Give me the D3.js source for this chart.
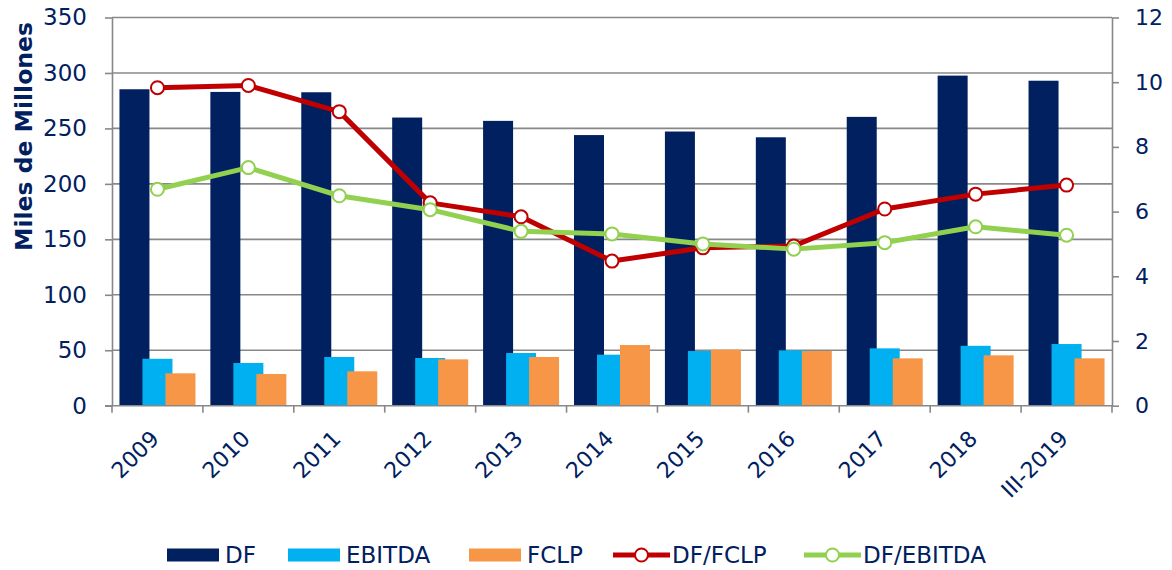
<!DOCTYPE html>
<html lang="es">
<head>
  <meta charset="UTF-8">
  <style>
    body { margin: 0; background: #fff; }
    text { font-family: 'DejaVu Sans', Verdana, sans-serif; fill: #002060; }
    .grid line { stroke: #888; stroke-width: 1.6; }
    .axis path, .axis line { stroke: #888; stroke-width: 1.6; }
  </style>
  <script src="https://d3js.org/d3.v7.min.js"></script>
</head>
<body>
<svg id="chart"></svg>
<script>

var years = ['2009', '2010', '2011', '2012', '2013', '2014', '2015', '2016', '2017', '2018', 'III-2019'];
var df = [285.3, 282.9, 282.6, 259.8, 256.8, 244, 247.2, 242, 260.4, 297.6, 293];
var ebitda = [42.3, 38.5, 43.9, 43, 47.5, 46, 49.3, 49.9, 51.7, 54, 55.6];
var fclp = [29.2, 28.6, 31, 41.8, 43.9, 54.7, 50.5, 49.3, 42.7, 45.4, 42.7];
var dfFclp = [9.83, 9.9, 9.09, 6.27, 5.84, 4.47, 4.88, 4.94, 6.08, 6.54, 6.82];
var dfEbitda = [6.69, 7.36, 6.49, 6.06, 5.39, 5.31, 5.0, 4.84, 5.04, 5.53, 5.27];
var leftTicks = [0, 50, 100, 150, 200, 250, 300, 350];
var rightTicks = [0, 2, 4, 6, 8, 10, 12];

var size = {width: 1172, height: 570};
var margin = {top: 17.5, right: 60, bottom: 164.3, left: 112};
var plotRight = size.width - margin.right;
var plotBottom = size.height - margin.bottom;

var svg = d3.select('#chart')
  .attr('width', size.width)
  .attr('height', size.height);

var xScale = d3.scaleBand()
  .domain(years)
  .range([margin.left, plotRight]);
var yLeft = d3.scaleLinear()
  .domain([0, 350])
  .range([plotBottom, margin.top]);
var yRight = d3.scaleLinear()
  .domain([0, 12])
  .range([plotBottom, margin.top]);

// gridlines
svg.append('g')
  .attr('class', 'grid')
  .selectAll('line')
  .data(leftTicks.slice(1))
  .enter()
  .append('line')
  .attr('x1', margin.left)
  .attr('x2', plotRight)
  .attr('y1', function(d) { return yLeft(d); })
  .attr('y2', function(d) { return yLeft(d); });

// bars: 30px wide, overlapping, 23px step
var barW = 30, step = 23;
var series = [
  {name: 'DF', values: df, color: '#002060'},
  {name: 'EBITDA', values: ebitda, color: '#00B0F0'},
  {name: 'FCLP', values: fclp, color: '#F79646'}
];
series.forEach(function(s, si) {
  svg.append('g')
    .selectAll('rect')
    .data(s.values)
    .enter()
    .append('rect')
    .attr('x', function(d, i) {
      return xScale(years[i]) + xScale.bandwidth() / 2 - barW / 2 + (si - 1) * step;
    })
    .attr('y', function(d) { return yLeft(d); })
    .attr('width', barW)
    .attr('height', function(d) { return plotBottom - yLeft(d); })
    .attr('fill', s.color);
});

// axes
var leftAxis = d3.axisLeft(yLeft).tickValues(leftTicks).tickSize(7).tickPadding(18).tickSizeOuter(0);
svg.append('g')
  .attr('class', 'axis')
  .attr('transform', 'translate(' + margin.left + ',0)')
  .call(leftAxis)
  .selectAll('text')
  .style('font-size', '23px')
  .style('fill', '#002060');

var rightAxis = d3.axisRight(yRight).tickValues(rightTicks).tickSize(7).tickPadding(16).tickSizeOuter(0);
svg.append('g')
  .attr('class', 'axis')
  .attr('transform', 'translate(' + plotRight + ',0)')
  .call(rightAxis)
  .selectAll('text')
  .style('font-size', '22px')
  .style('fill', '#002060');

var bottom = svg.append('g')
  .attr('class', 'axis')
  .attr('transform', 'translate(0,' + plotBottom + ')');
bottom.append('line')
  .attr('x1', margin.left - 7)
  .attr('x2', plotRight)
  .attr('y1', 0).attr('y2', 0);
bottom.selectAll('.tk')
  .data(d3.range(years.length + 1))
  .enter()
  .append('line')
  .attr('x1', function(i) { return margin.left + i * xScale.step(); })
  .attr('x2', function(i) { return margin.left + i * xScale.step(); })
  .attr('y1', 0)
  .attr('y2', 7);
bottom.selectAll('text')
  .data(years)
  .enter()
  .append('text')
  .attr('transform', function(d) {
    return 'translate(' + (xScale(d) + xScale.bandwidth() / 2 - 2.5) + ',29) rotate(-45)';
  })
  .attr('text-anchor', 'end')
  .attr('dy', '0.35em')
  .style('font-size', '22px')
  .text(function(d) { return d; });

// y title
svg.append('text')
  .attr('transform', 'translate(32,136.5) rotate(-90)')
  .attr('text-anchor', 'middle')
  .style('font-size', '23.5px')
  .style('font-weight', 'bold')
  .text('Miles de Millones');

// lines
var lineSeries = [
  {name: 'DF/FCLP', values: dfFclp, color: '#C00000'},
  {name: 'DF/EBITDA', values: dfEbitda, color: '#92D050'}
];
var line = d3.line()
  .x(function(d, i) { return xScale(years[i]) + xScale.bandwidth() / 2; })
  .y(function(d) { return yRight(d); });
lineSeries.forEach(function(s) {
  var g = svg.append('g');
  g.append('path')
    .datum(s.values)
    .attr('d', line)
    .attr('fill', 'none')
    .attr('stroke', s.color)
    .attr('stroke-width', 5)
    .attr('stroke-linejoin', 'round');
  g.selectAll('circle')
    .data(s.values)
    .enter()
    .append('circle')
    .attr('cx', function(d, i) { return xScale(years[i]) + xScale.bandwidth() / 2; })
    .attr('cy', function(d) { return yRight(d); })
    .attr('r', 6.5)
    .attr('fill', '#fff')
    .attr('stroke', s.color)
    .attr('stroke-width', 2);
});

// legend
var legendY = 555;
var legendItems = [
  {name: 'DF', color: '#002060', type: 'bar', x: 167},
  {name: 'EBITDA', color: '#00B0F0', type: 'bar', x: 288},
  {name: 'FCLP', color: '#F79646', type: 'bar', x: 469},
  {name: 'DF/FCLP', color: '#C00000', type: 'line', x: 613},
  {name: 'DF/EBITDA', color: '#92D050', type: 'line', x: 804}
];
var legend = svg.append('g');
legendItems.forEach(function(it) {
  var g = legend.append('g').attr('transform', 'translate(' + it.x + ',' + legendY + ')');
  if (it.type === 'bar') {
    g.append('rect').attr('x', 0).attr('y', -6.5).attr('width', 52).attr('height', 13).attr('fill', it.color);
  } else {
    g.append('line').attr('x1', 0).attr('x2', 57).attr('y1', 0).attr('y2', 0)
      .attr('stroke', it.color).attr('stroke-width', 5);
    g.append('circle').attr('cx', 28.5).attr('cy', 0).attr('r', 6.5)
      .attr('fill', '#fff').attr('stroke', it.color).attr('stroke-width', 2);
  }
  g.append('text')
    .attr('x', it.type === 'bar' ? 58 : 59)
    .attr('dy', '0.36em')
    .style('font-size', '23px')
    .text(it.name);
});

</script>
</body>
</html>
